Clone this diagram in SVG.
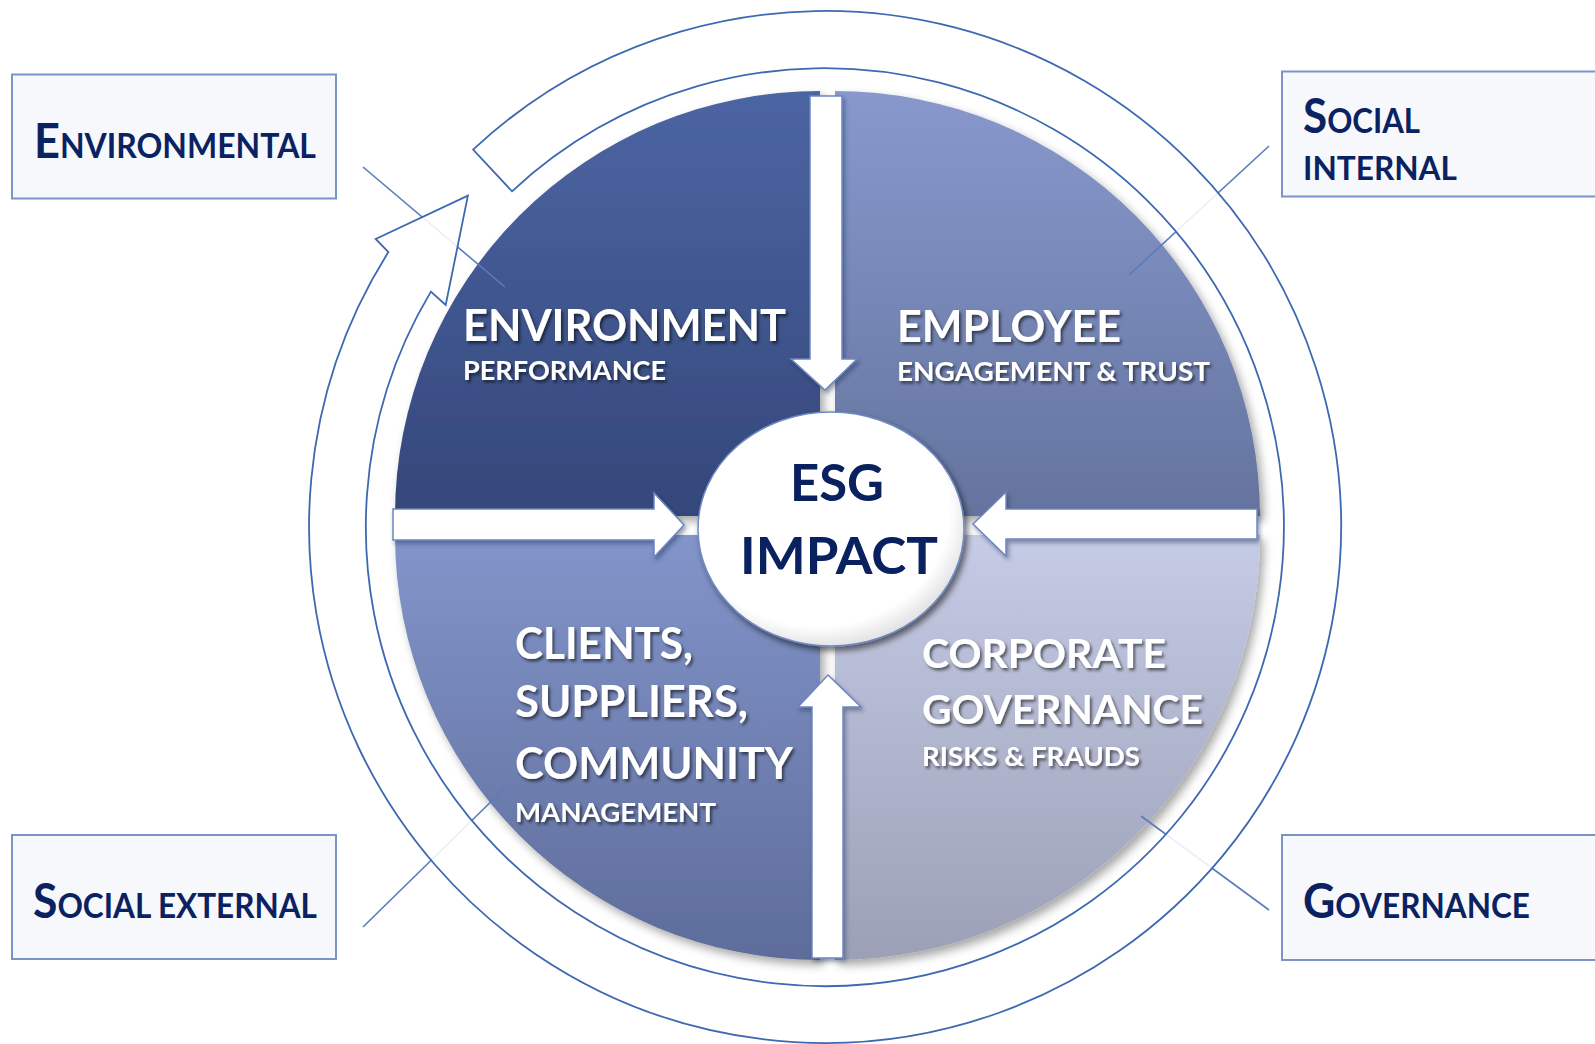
<svg xmlns="http://www.w3.org/2000/svg" width="1595" height="1044" viewBox="0 0 1595 1044">
<defs>
<style>
.lbl{font-family:Lato,"Liberation Sans",sans-serif;font-weight:700;fill:#0b2262}
.box{fill:#f6f8fb;stroke:#7b93c9;stroke-width:2}
.qt{font-family:Lato,"Liberation Sans",sans-serif;font-weight:700;fill:#ffffff;filter:url(#ts)}
.big{font-size:44px}
.sub{font-size:27px}
.conn{stroke:#5b7bbd;stroke-width:1.6;fill:none}
.flow{fill:#ffffff;stroke:#6d85c1;stroke-width:1.5;filter:url(#as)}
.esg{font-family:Lato,"Liberation Sans",sans-serif;font-weight:700;fill:#0a2160;font-size:52px}
</style>
<linearGradient id="gTL" x1="0" y1="0" x2="0" y2="1"><stop offset="0" stop-color="#4c65a3"/><stop offset="1" stop-color="#34477a"/></linearGradient>
<linearGradient id="gTR" x1="0" y1="0" x2="0" y2="1"><stop offset="0" stop-color="#8898cd"/><stop offset="1" stop-color="#64749e"/></linearGradient>
<linearGradient id="gBL" x1="0" y1="0" x2="0" y2="1"><stop offset="0" stop-color="#8295ca"/><stop offset="1" stop-color="#5e6c9a"/></linearGradient>
<linearGradient id="gBR" x1="0" y1="0" x2="0" y2="1"><stop offset="0" stop-color="#c6cbe6"/><stop offset="1" stop-color="#9ba0b6"/></linearGradient>
<radialGradient id="gE" cx="0.45" cy="0.42" r="0.62"><stop offset="0" stop-color="#ffffff"/><stop offset="0.8" stop-color="#ffffff"/><stop offset="1" stop-color="#d9d9dc"/></radialGradient>
<filter id="ds" x="-10%" y="-10%" width="125%" height="125%"><feDropShadow dx="4" dy="5" stdDeviation="5" flood-color="#000" flood-opacity="0.35"/></filter>
<filter id="as" x="-20%" y="-20%" width="140%" height="140%"><feDropShadow dx="2" dy="3" stdDeviation="2" flood-color="#1a2a55" flood-opacity="0.45"/></filter>
<filter id="es" x="-20%" y="-20%" width="140%" height="140%"><feDropShadow dx="3" dy="4" stdDeviation="3" flood-color="#000" flood-opacity="0.55"/></filter>
<filter id="ts" x="-10%" y="-30%" width="120%" height="160%"><feDropShadow dx="2" dy="2.5" stdDeviation="1.5" flood-color="#000" flood-opacity="0.55"/></filter>
</defs>
<rect width="1595" height="1044" fill="#ffffff"/>

<g id="disc" filter="url(#ds)">
<g id="q-environment">
<path d="M820,516 L820,91 A425,425 0 0 0 395,516 Z" fill="url(#gTL)"/>
</g>
<g id="q-employee">
<path d="M835,516 L1260,516 A425,425 0 0 0 835,91 Z" fill="url(#gTR)"/>
</g>
<g id="q-clients">
<path d="M820,535 L395,535 A425,425 0 0 0 820,960 Z" fill="url(#gBL)"/>
</g>
<g id="q-governance">
<path d="M835,535 L835,960 A425,425 0 0 0 1260,535 Z" fill="url(#gBR)"/>
</g>
</g>

<g id="quadrant-texts">
<text class="qt big" x="463" y="341" textLength="323" lengthAdjust="spacingAndGlyphs">ENVIRONMENT</text>
<text class="qt sub" x="463" y="380" textLength="203" lengthAdjust="spacingAndGlyphs">PERFORMANCE</text>
<text class="qt big" x="897" y="342" textLength="224" lengthAdjust="spacingAndGlyphs">EMPLOYEE</text>
<text class="qt sub" x="897" y="381" textLength="313" lengthAdjust="spacingAndGlyphs">ENGAGEMENT &amp; TRUST</text>
<text class="qt big" x="515" y="659" textLength="178" lengthAdjust="spacingAndGlyphs">CLIENTS,</text>
<text class="qt big" x="515" y="717" textLength="233" lengthAdjust="spacingAndGlyphs">SUPPLIERS,</text>
<text class="qt big" x="515" y="779" textLength="278" lengthAdjust="spacingAndGlyphs">COMMUNITY</text>
<text class="qt sub" x="515" y="822" textLength="201" lengthAdjust="spacingAndGlyphs">MANAGEMENT</text>
<text class="qt" font-size="41" x="922" y="668" textLength="244" lengthAdjust="spacingAndGlyphs">CORPORATE</text>
<text class="qt" font-size="41" x="922" y="724" textLength="281" lengthAdjust="spacingAndGlyphs">GOVERNANCE</text>
<text class="qt sub" x="922" y="766" textLength="218" lengthAdjust="spacingAndGlyphs">RISKS &amp; FRAUDS</text>
</g>

<g id="connectors">
<line class="conn" x1="363" y1="167" x2="505" y2="287"/>
<line class="conn" x1="1269" y1="146" x2="1129" y2="275"/>
<line class="conn" x1="363" y1="927" x2="506" y2="787"/>
<line class="conn" x1="1269" y1="910" x2="1141" y2="816"/>
</g>

<g id="cycle-arrow">
<path d="M473.1,149.6 A516,516 0 1 1 388.4,252 L375.7,239 L467.9,195.7 L445.7,305 L430.9,291.6 A459,459 0 1 0 512,191.3 Z" fill="#ffffff" fill-opacity="0.88" stroke="#3d69b1" stroke-width="1.8" stroke-linejoin="miter"/>
</g>

<g id="flow-arrows">
<path class="flow" d="M810,96 L842,96 L842,359 L857,359 L825,390 L791,359 L810,359 Z"/>
<path class="flow" d="M393,509 L654,509 L654,493 L684,525 L654,557 L654,540 L393,540 Z"/>
<path class="flow" d="M1257,509 L1006,509 L1006,492 L973,524 L1006,556 L1006,539 L1257,539 Z"/>
<path class="flow" d="M812,958 L812,707 L798,707 L828,675 L861,707 L843,707 L843,958 Z"/>
</g>

<g id="esg-impact">
<ellipse cx="831" cy="529" rx="133" ry="117" fill="url(#gE)" stroke="#7089c4" stroke-width="1.5" filter="url(#es)"/>
<text class="esg" x="790" y="501" textLength="94" lengthAdjust="spacingAndGlyphs">ESG</text>
<text class="esg" x="740" y="574" textLength="198" lengthAdjust="spacingAndGlyphs">IMPACT</text>
</g>

<g id="label-environmental">
<rect class="box" x="12" y="74.5" width="324" height="124"/>
<text class="lbl" x="34" y="158" textLength="282" lengthAdjust="spacingAndGlyphs"><tspan font-size="48">E</tspan><tspan font-size="34">NVIRONMENTAL</tspan></text>
</g>
<g id="label-social-internal">
<rect class="box" x="1282" y="71.5" width="340" height="125"/>
<text class="lbl" x="1303" y="133" textLength="117" lengthAdjust="spacingAndGlyphs"><tspan font-size="48">S</tspan><tspan font-size="34">OCIAL</tspan></text>
<text class="lbl" x="1303" y="180" font-size="33" textLength="154" lengthAdjust="spacingAndGlyphs">INTERNAL</text>
</g>
<g id="label-social-external">
<rect class="box" x="12" y="835" width="324" height="124"/>
<text class="lbl" x="33" y="918" textLength="284" lengthAdjust="spacingAndGlyphs"><tspan font-size="48">S</tspan><tspan font-size="34">OCIAL EXTERNAL</tspan></text>
</g>
<g id="label-governance">
<rect class="box" x="1282" y="835" width="340" height="125"/>
<text class="lbl" x="1303" y="918" textLength="227" lengthAdjust="spacingAndGlyphs"><tspan font-size="48">G</tspan><tspan font-size="34">OVERNANCE</tspan></text>
</g>
</svg>
